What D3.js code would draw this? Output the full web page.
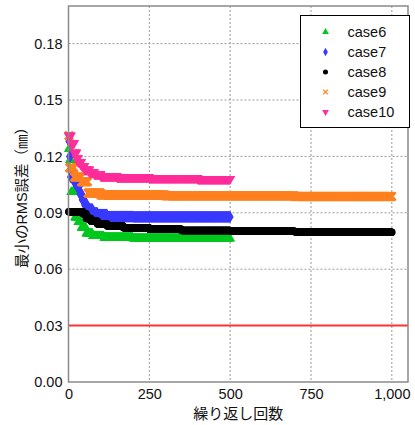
<!DOCTYPE html>
<html>
<head>
<meta charset="utf-8">
<script src="https://cdn.jsdelivr.net/npm/d3@7"></script>
<style>
  body { margin: 0; background: #fff; }
  text { font-family: "Liberation Sans", Arial, "Noto Sans CJK JP", sans-serif; fill: #111; }
</style>
</head>
<body>
<div id="chart"></div>
<script>
// running minimum RMS error: [iteration where it drops, new value]
const case6 = [[1, 0.124], [4, 0.118], [8, 0.101], [20, 0.0875], [30, 0.085], [40, 0.082], [55, 0.079], [75, 0.0775], [110, 0.0768], [200, 0.0763]];
const case7 = [[1, 0.128], [3, 0.120], [6, 0.109], [15, 0.107], [25, 0.104], [35, 0.100], [42, 0.097], [50, 0.094], [60, 0.092], [75, 0.090], [90, 0.089], [120, 0.088], [200, 0.0878]];
const case8 = [[1, 0.0905], [45, 0.0895], [55, 0.087], [70, 0.0855], [90, 0.084], [120, 0.083], [170, 0.082], [250, 0.0812], [350, 0.0806], [500, 0.0802], [700, 0.0799], [900, 0.0797]];
const case9 = [[1, 0.131], [3, 0.114], [18, 0.109], [40, 0.1065], [60, 0.1005], [100, 0.0995], [300, 0.099], [700, 0.0987]];
const case10 = [[1, 0.131], [8, 0.127], [18, 0.122], [25, 0.119], [30, 0.117], [40, 0.115], [50, 0.113], [65, 0.1115], [80, 0.1105], [100, 0.1095], [150, 0.109], [250, 0.1085], [400, 0.108]];
const runLengths = [500, 500, 1000, 1000, 500];
const seriesNames = ['case6', 'case7', 'case8', 'case9', 'case10'];
const targetValue = 0.03;
const xTicks = [0, 250, 500, 750, 1000];
const yTicks = [0, 0.03, 0.06, 0.09, 0.12, 0.15, 0.18];

const width = 415, height = 425;
const margin = { top: 6, right: 7, bottom: 43, left: 68.5 };
const w = width - margin.left - margin.right;
const h = height - margin.top - margin.bottom;

const svg = d3.select('#chart').append('svg')
  .attr('width', width)
  .attr('height', height);

const g = svg.append('g')
  .attr('transform', `translate(${margin.left},${margin.top})`);

const x = d3.scaleLinear().domain([0, 1050]).range([0, w]);
const y = d3.scaleLinear().domain([0, 0.2]).range([h, 0]);

// grid
g.append('g').selectAll('line')
  .data(xTicks.slice(1))
  .enter().append('line')
  .attr('x1', d => x(d)).attr('x2', d => x(d))
  .attr('y1', 0).attr('y2', h)
  .attr('stroke', '#999').attr('stroke-dasharray', '2,2');

g.append('g').selectAll('line')
  .data(yTicks.slice(1))
  .enter().append('line')
  .attr('x1', 0).attr('x2', w)
  .attr('y1', d => y(d)).attr('y2', d => y(d))
  .attr('stroke', '#999').attr('stroke-dasharray', '2,2');

// axes (labels only, frame drawn separately)
const xAxis = g.append('g')
  .attr('transform', `translate(0,${h})`)
  .call(d3.axisBottom(x).tickValues(xTicks).tickSize(0).tickPadding(7).tickFormat(d3.format(',')));
const yAxis = g.append('g')
  .call(d3.axisLeft(y).tickValues(yTicks).tickSize(0).tickPadding(6).tickFormat(d3.format('.2f')));
[xAxis, yAxis].forEach(a => {
  a.select('.domain').remove();
  a.selectAll('text').attr('font-size', '14.5px').attr('fill', '#111')
    .attr('font-family', '"Liberation Sans", Arial, sans-serif');
});

// target line
g.append('line')
  .attr('x1', x(0)).attr('x2', x(1050))
  .attr('y1', y(targetValue)).attr('y2', y(targetValue))
  .attr('stroke', '#ff3333').attr('stroke-width', 2);

// series
const colors = ['#00c81e', '#3a3aff', '#000000', '#ff8020', '#ff2e9a'];
const symbols = [
  { type: d3.symbolTriangle, size: 40, rotate: 0 },
  { type: d3.symbolDiamond, size: 40, rotate: 0 },
  { type: d3.symbolCircle, size: 44, rotate: 0 },
  { type: d3.symbolTimes, size: 42, rotate: 0 },
  { type: d3.symbolTriangle, size: 44, rotate: 180 }
];
const allCases = [case6, case7, case8, case9, case10];

function expand(changes, n) {
  const pts = [];
  let k = 0;
  for (let i = 1; i <= n; i++) {
    while (k + 1 < changes.length && changes[k + 1][0] <= i) k++;
    pts.push({ it: i, v: changes[k][1] });
  }
  return pts;
}

allCases.forEach((c, si) => {
  const s = symbols[si];
  const path = d3.symbol().type(s.type).size(s.size)();
  const isX = s.type === d3.symbolTimes;
  g.append('g').selectAll('path')
    .data(expand(c, runLengths[si]))
    .enter().append('path')
    .attr('d', path)
    .attr('transform', d => `translate(${x(d.it)},${y(d.v)}) rotate(${s.rotate})`)
    .attr('fill', isX ? 'none' : colors[si])
    .attr('stroke', isX ? colors[si] : 'none')
    .attr('stroke-width', isX ? 2.2 : 0);
});

// frame
g.append('rect')
  .attr('x', 0).attr('y', 0).attr('width', w).attr('height', h)
  .attr('fill', 'none').attr('stroke', '#8a8a8a').attr('stroke-width', 1.5);

// legend
const legend = svg.append('g').attr('transform', 'translate(300.5,15.5)');
legend.append('rect')
  .attr('width', 109).attr('height', 112)
  .attr('fill', '#fff').attr('stroke', '#000').attr('stroke-width', 1);
seriesNames.forEach((name, i) => {
  const s = symbols[i];
  const isX = s.type === d3.symbolTimes;
  const row = legend.append('g').attr('transform', `translate(25,${16.5 + i * 20})`);
  row.append('path')
    .attr('d', d3.symbol().type(s.type).size(isX ? 16 : 20)())
    .attr('transform', `rotate(${s.rotate})`)
    .attr('fill', isX ? 'none' : colors[i])
    .attr('stroke', isX ? colors[i] : 'none')
    .attr('stroke-width', isX ? 1.2 : 0);
  row.append('text')
    .attr('x', 22).attr('y', 5)
    .attr('font-size', '14.5px')
    .text(name);
});

// axis titles
svg.append('text')
  .attr('x', margin.left + w / 2).attr('y', 419)
  .attr('text-anchor', 'middle')
  .attr('font-size', '15px')
  .text('繰り返し回数');

svg.append('text')
  .attr('transform', `translate(27,${margin.top + h / 2}) rotate(-90)`)
  .attr('text-anchor', 'middle')
  .attr('font-size', '14.5px')
  .text('最小のRMS誤差（㎜）');
</script>
</body>
</html>
